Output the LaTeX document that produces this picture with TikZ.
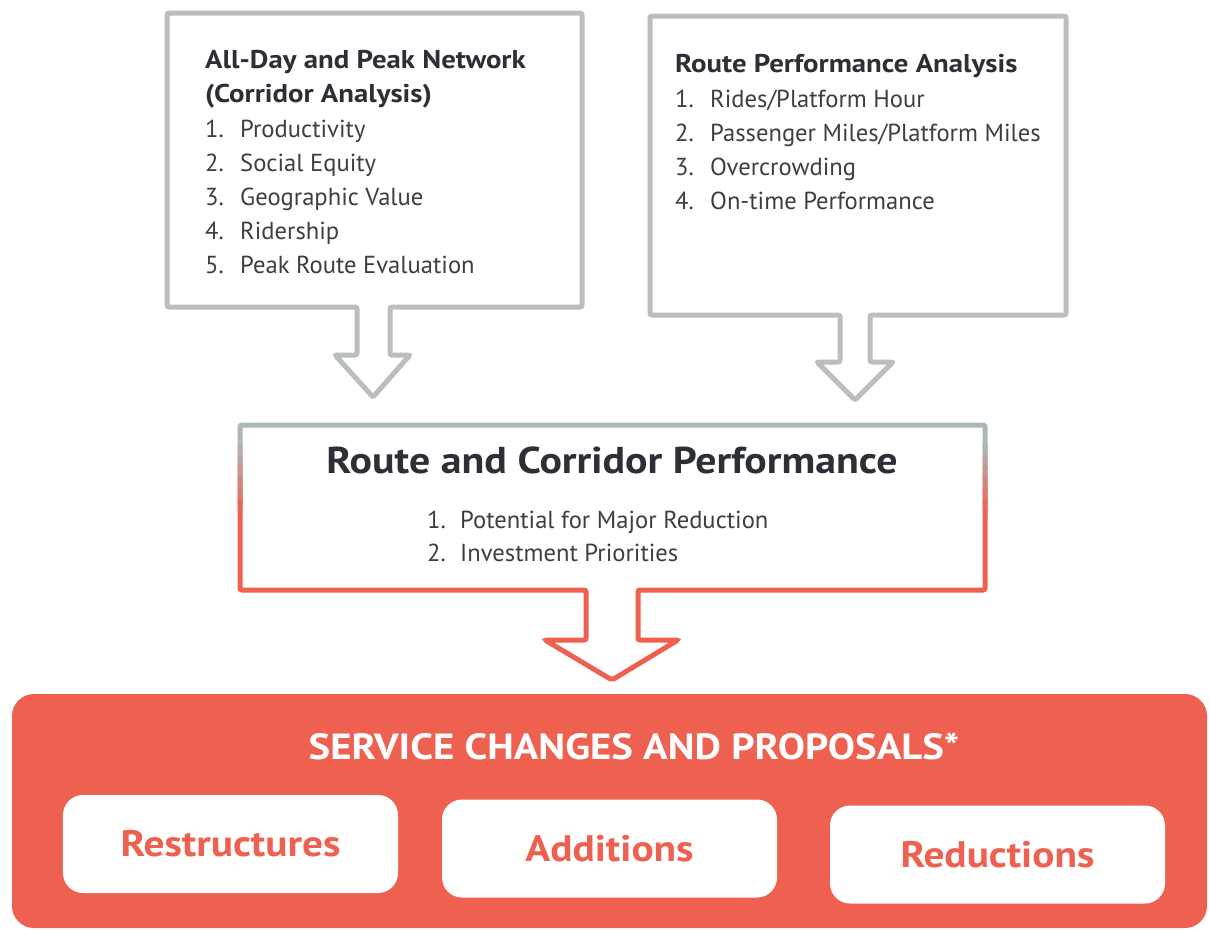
\documentclass[tikz,border=0pt]{standalone}
\usepackage{fontspec}
\setmainfont{PT Sans}[BoldFeatures={FakeStretch=1.12}]
\definecolor{boxgray}{RGB}{186,190,192}
\definecolor{topgray}{RGB}{172,184,184}
\definecolor{cred}{RGB}{238,96,80}
\definecolor{ctext}{RGB}{44,47,53}
\definecolor{citem}{RGB}{60,62,67}
\newcommand{\lnum}[2][35bp]{\makebox[#1][l]{#2}}
\begin{document}
\begin{tikzpicture}[x=1bp,y=-1bp,
  boxline/.style={draw=boxgray, line width=5bp, rounded corners=2bp, fill=white},
  item/.style={anchor=base west, inner sep=0pt, text=citem, font=\fontsize{24.7}{30}\selectfont},
  head/.style={anchor=base west, inner sep=0pt, text=ctext, font=\bfseries\fontsize{25.8}{30}\selectfont},
  bigtitle/.style={anchor=base, inner sep=0pt, text=ctext, font=\bfseries\fontsize{37.5}{44}\selectfont},
  redtitle/.style={anchor=base, inner sep=0pt, text=white, font=\bfseries\fontsize{36.5}{40}\selectfont},
  subbox/.style={fill=white, rounded corners=20bp, minimum width=335bp, minimum height=98bp, inner sep=0pt, text=cred, font=\bfseries\fontsize{37}{44}\selectfont},
  midpath/.style={insert path={(240,425) -- (985,425) -- (985,590) -- (638,590) -- (638,640) -- (678,640) -- (612,680) -- (545,640) -- (586,640) -- (586,590) -- (240,590) -- cycle}},
  midline/.style={line width=5bp, rounded corners=2bp}
]
\useasboundingbox (0,0) rectangle (1209,931);
\fill[white] (0,0) rectangle (1209,931);

% left box with arrow
\draw[boxline] (167,13) -- (582,13) -- (582,307) -- (390,307) -- (390,355) -- (410,355) -- (373,397) -- (335,355) -- (357,355) -- (357,307) -- (167,307) -- cycle;
\node[head] (lh1) at (205,68) {All-Day and Peak Network};
\node[head] (lh2) at (205,102) {(Corridor Analysis)};
\node[item] (li1) at (205,137) {\lnum{1.}Productivity};
\node[item] (li2) at (205,171) {\lnum{2.}Social Equity};
\node[item] (li3) at (205,205) {\lnum{3.}Geographic Value};
\node[item] (li4) at (205,239) {\lnum{4.}Ridership};
\node[item] (li5) at (205,273) {\lnum{5.}Peak Route Evaluation};

% right box with arrow
\draw[boxline] (650,16) -- (1066,16) -- (1066,315) -- (870,315) -- (870,362) -- (893,362) -- (855,400) -- (817,362) -- (840,362) -- (840,315) -- (650,315) -- cycle;
\node[head] (rh1) at (675,72) {Route Performance Analysis};
\node[item] (ri1) at (675,107) {\lnum{1.}Rides/Platform Hour};
\node[item] (ri2) at (675,141) {\lnum{2.}Passenger Miles/Platform Miles};
\node[item] (ri3) at (675,175) {\lnum{3.}Overcrowding};
\node[item] (ri4) at (675,209) {\lnum{4.}On-time Performance};

% middle box with arrow, border fading from gray to red
\fill[white, midpath];
\begin{scope}
  \clip (200,400) rectangle (1020,446);
  \draw[topgray, midline, midpath];
\end{scope}
\foreach \i in {0,...,29}{
  \pgfmathsetmacro\p{100*(\i+0.5)/30}
  \begin{scope}
    \clip (200,{446+\i*2.2-0.3}) rectangle (1020,{446+(\i+1)*2.2+0.3});
    \draw[cred!\p!topgray, midline, midpath];
  \end{scope}
}
\begin{scope}
  \clip (200,512) rectangle (1020,700);
  \draw[cred, midline, midpath];
\end{scope}
\node[bigtitle] (mt) at (612,473) {Route and Corridor Performance};
\node[item] (mi1) at (427,528) {\lnum[33bp]{1.}Potential for Major Reduction};
\node[item] (mi2) at (427,561) {\lnum[33bp]{2.}Investment Priorities};

% bottom red panel
\fill[cred, rounded corners=22bp] (12,694) rectangle (1207,928);
\node[redtitle] (st) at (634,759) {SERVICE CHANGES AND PROPOSALS*};
\node[subbox] (restr) at (230.5,844) {Restructures};
\node[subbox] (addit) at (609.5,848.5) {Additions};
\node[subbox] (reduc) at (997.5,854.5) {Reductions};
\end{tikzpicture}
\end{document}
